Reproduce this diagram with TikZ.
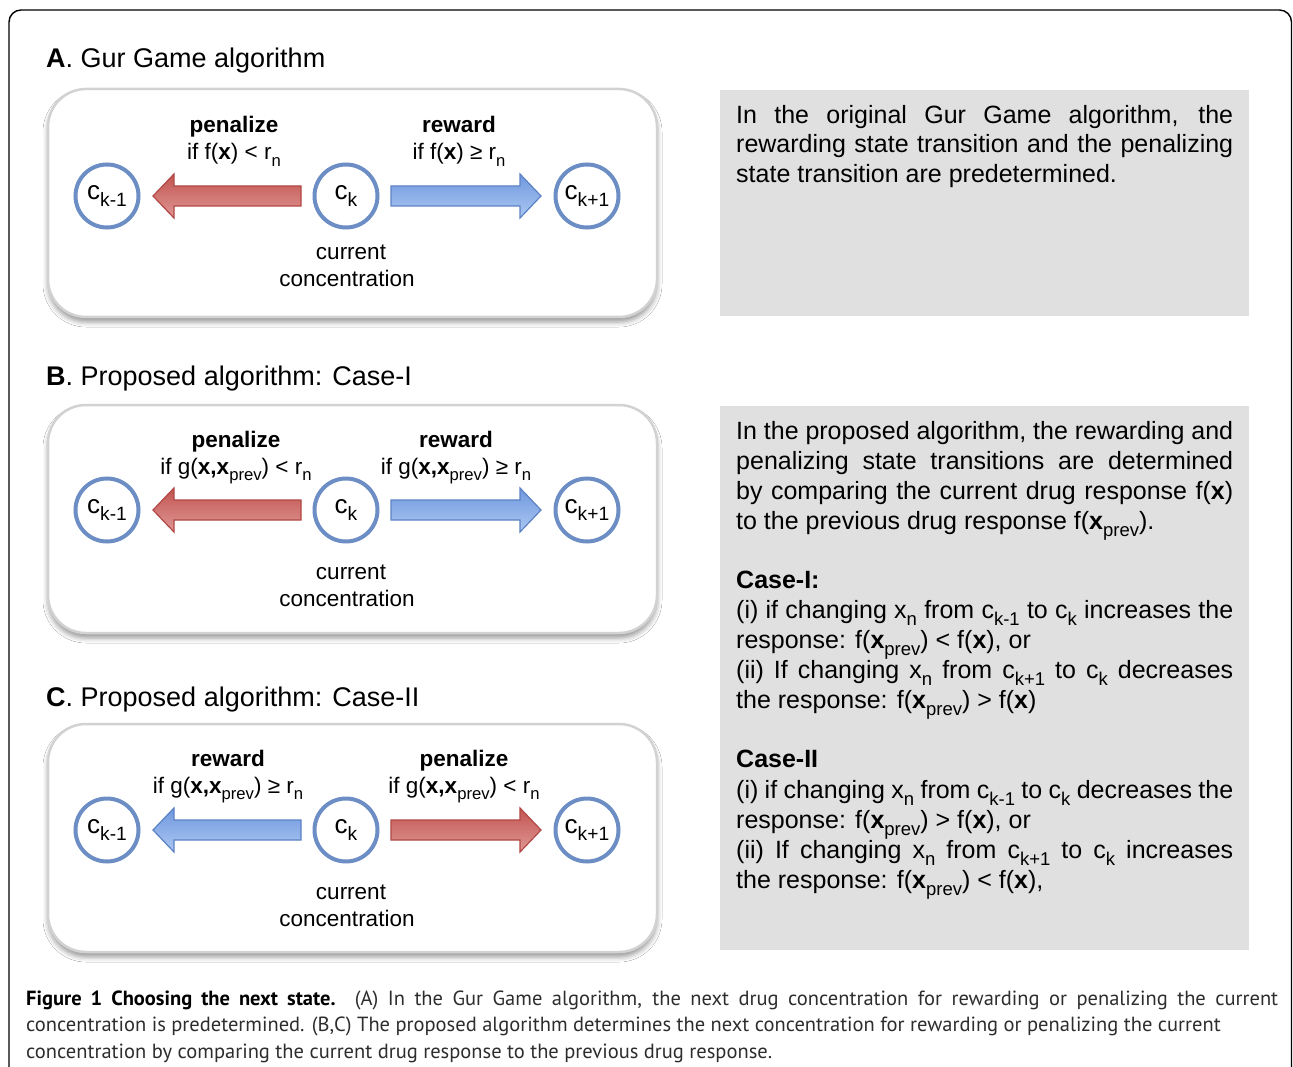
\documentclass[tikz,border=0pt]{standalone}
\usepackage{fontspec}
\setmainfont{Liberation Sans}
\newfontfamily\capfont{PT Sans}
\usetikzlibrary{calc,shadows.blur}
\definecolor{circblue}{RGB}{108,142,197}
\definecolor{panelborder}{RGB}{210,210,210}
\definecolor{greybox}{RGB}{224,224,224}
\definecolor{redtop}{RGB}{194,84,80}
\definecolor{redbot}{RGB}{224,152,150}
\definecolor{redline}{RGB}{178,72,69}
\definecolor{bluetop}{RGB}{112,152,222}
\definecolor{bluebot}{RGB}{172,200,242}
\definecolor{blueline}{RGB}{92,130,198}
\definecolor{captext}{RGB}{45,45,45}
\newcommand\sbs[1]{\raisebox{-0.28em}{\scalebox{0.74}{#1}}}
\newcommand\blockarrow[3]{%
  \path[#3] let \p1=($(#1.center)!45pt!(#2.center)$), \p2=($(#2.center)!46pt!(#1.center)$),
    \n1={ifthenelse(\x2>\x1,1,-1)} in
    (\x1,\y1+10pt) -- (\x2-\n1*21pt,\y1+10pt) -- (\x2-\n1*21pt,\y1+22pt) -- (\x2,\y1)
    -- (\x2-\n1*21pt,\y1-22pt) -- (\x2-\n1*21pt,\y1-10pt) -- (\x1,\y1-10pt) -- cycle;}
\begin{document}
\begin{tikzpicture}[x=1pt,y=-1pt,
  panel/.style={draw=panelborder, line width=2.5pt, fill=white, rounded corners=38pt,
    minimum width=609pt, minimum height=228pt, inner sep=0pt,
    blur shadow={shadow xshift=0pt, shadow yshift=-5pt, shadow opacity=40, shadow blur radius=5pt}},
  greyrect/.style={fill=greybox, minimum width=529pt, inner sep=0pt},
  circ/.style={circle, draw=circblue, line width=4pt, fill=white, minimum size=63pt,
    inner sep=0pt, font=\fontsize{26}{30}\selectfont},
  lbl/.style={font=\fontsize{22.5}{27}\selectfont, anchor=base, inner sep=0pt},
  lblb/.style={font=\bfseries\fontsize{22.5}{27}\selectfont, anchor=base, inner sep=0pt},
  ttl/.style={font=\fontsize{27}{32}\selectfont, anchor=base west, inner sep=0pt},
  body/.style={font=\fontsize{25}{30}\selectfont, anchor=base west, inner sep=0pt},
  captxt/.style={font=\capfont\fontsize{20.5}{24}\selectfont, text=captext, anchor=base west, inner sep=0pt},
  redarrow/.style={top color=redtop, bottom color=redbot, draw=redline, line width=1.2pt, line join=miter},
  bluearrow/.style={top color=bluetop, bottom color=bluebot, draw=blueline, line width=1.2pt, line join=miter}]
\useasboundingbox (0,0) rectangle (1293,1067);
\clip (0,0) rectangle (1293,1067);
\fill[white] (0,0) rectangle (1293,1067);
\draw[line width=1.4pt, rounded corners=12pt] (9,1090) -- (9,10) -- (1291.5,10) -- (1291.5,1090);

% ---------- Panel A ----------
\node[ttl] (titleA) at (46,68) {\textbf{A}. Gur Game algorithm};
\node[panel] (boxA) at (352.5,203) {};
\node[circ] (cmA) at (107,196) {c\sbs{k-1}};
\node[circ] (cA) at (346,196) {c\sbs{k}};
\node[circ] (cpA) at (587,196) {c\sbs{k+1}};
\blockarrow{cA}{cmA}{redarrow}
\blockarrow{cA}{cpA}{bluearrow}
\node[lblb] (penA) at (234,133) {penalize};
\node[lbl] (penAc) at (234,160) {if f(\textbf{x}) < r\sbs{n}};
\node[lblb] (rewA) at (459,133) {reward};
\node[lbl] (rewAc) at (459,160) {if f(\textbf{x}) ≥ r\sbs{n}};
\node[lbl] (curA) at (351,260) {current};
\node[lbl] (conA) at (347,287) {concentration};

\node[greyrect, minimum height=226pt] (gA) at (984.5,203) {};
\node[body] (tA1) at (736,123.5) {\makebox[497pt][s]{In the original Gur Game algorithm, the}};
\node[body] (tA2) at (736,153) {\makebox[497pt][s]{rewarding state transition and the penalizing}};
\node[body] (tA3) at (736,182.5) {state transition are predetermined.};

% ---------- Panel B ----------
\node[ttl] (titleB) at (46,385) {\textbf{B}. Proposed algorithm: Case-I};
\node[panel] (boxB) at (352.5,519) {};
\node[circ] (cmB) at (107,510) {c\sbs{k-1}};
\node[circ] (cB) at (346,510) {c\sbs{k}};
\node[circ] (cpB) at (587,510) {c\sbs{k+1}};
\blockarrow{cB}{cmB}{redarrow}
\blockarrow{cB}{cpB}{bluearrow}
\node[lblb] (penB) at (236,447) {penalize};
\node[lbl] (penBc) at (236,474) {if g(\textbf{x,x}\sbs{prev}) < r\sbs{n}};
\node[lblb] (rewB) at (456,447) {reward};
\node[lbl] (rewBc) at (456,474) {if g(\textbf{x,x}\sbs{prev}) ≥ r\sbs{n}};
\node[lbl] (curB) at (351,579) {current};
\node[lbl] (conB) at (347,606) {concentration};

% ---------- Panel C ----------
\node[ttl] (titleC) at (46,706) {\textbf{C}. Proposed algorithm: Case-II};
\node[panel] (boxC) at (352.5,838) {};
\node[circ] (cmC) at (107,830) {c\sbs{k-1}};
\node[circ] (cC) at (346,830) {c\sbs{k}};
\node[circ] (cpC) at (587,830) {c\sbs{k+1}};
\blockarrow{cC}{cmC}{bluearrow}
\blockarrow{cC}{cpC}{redarrow}
\node[lblb] (rewC) at (228,766) {reward};
\node[lbl] (rewCc) at (228,793) {if g(\textbf{x,x}\sbs{prev}) ≥ r\sbs{n}};
\node[lblb] (penC) at (464,766) {penalize};
\node[lbl] (penCc) at (464,793) {if g(\textbf{x,x}\sbs{prev}) < r\sbs{n}};
\node[lbl] (curC) at (351,899) {current};
\node[lbl] (conC) at (347,926) {concentration};

% ---------- Grey text box B/C ----------
\node[greyrect, minimum height=544pt] (gB) at (984.5,678) {};
\node[body] (t1) at (736,439) {\makebox[497pt][s]{In the proposed algorithm, the rewarding and}};
\node[body] (t2) at (736,469) {\makebox[497pt][s]{penalizing state transitions are determined}};
\node[body] (t3) at (736,499) {\makebox[497pt][s]{by comparing the current drug response f(\textbf{x})}};
\node[body] (t4) at (736,529) {to the previous drug response f(\textbf{x}\sbs{prev}).};
\node[body] (t5) at (736,588) {\textbf{Case-I:}};
\node[body] (t6) at (736,618) {\makebox[497pt][s]{(i) if changing x\sbs{n} from c\sbs{k-1} to c\sbs{k} increases the}};
\node[body] (t7) at (736,648) {response: f(\textbf{x}\sbs{prev}) < f(\textbf{x}), or};
\node[body] (t8) at (736,678) {\makebox[497pt][s]{(ii) If changing x\sbs{n} from c\sbs{k+1} to c\sbs{k} decreases}};
\node[body] (t9) at (736,708) {the response: f(\textbf{x}\sbs{prev}) > f(\textbf{x})};
\node[body] (t10) at (736,767) {\textbf{Case-II}};
\node[body] (t11) at (736,798) {\makebox[497pt][s]{(i) if changing x\sbs{n} from c\sbs{k-1} to c\sbs{k} decreases the}};
\node[body] (t12) at (736,828) {response: f(\textbf{x}\sbs{prev}) > f(\textbf{x}), or};
\node[body] (t13) at (736,858) {\makebox[497pt][s]{(ii) If changing x\sbs{n} from c\sbs{k+1} to c\sbs{k} increases}};
\node[body] (t14) at (736,888) {the response: f(\textbf{x}\sbs{prev}) < f(\textbf{x}),};

% ---------- Caption ----------
\node[captxt] (cap1) at (26,1005) {\makebox[1252pt][s]{\textcolor{black}{\textbf{Figure 1 Choosing the next state.}} (A) In the Gur Game algorithm, the next drug concentration for rewarding or penalizing the current}};
\node[captxt] (cap2) at (26,1031) {concentration is predetermined. (B,C) The proposed algorithm determines the next concentration for rewarding or penalizing the current};
\node[captxt] (cap3) at (26,1058) {concentration by comparing the current drug response to the previous drug response.};
\end{tikzpicture}
\end{document}
